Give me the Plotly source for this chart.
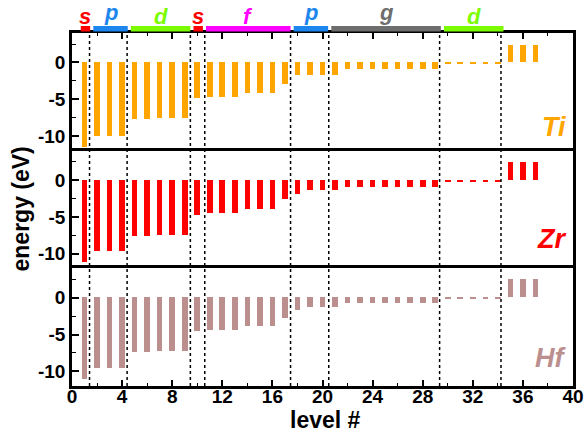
import plotly.graph_objects as go
from plotly.subplots import make_subplots

# Single-particle levels (eV) for the three group-IV atoms
levels = list(range(1, 38))

ti_energy = [-11.5,
             -10.0, -10.0, -10.0,
             -7.73, -7.73, -7.55, -7.55, -7.55,
             -4.8,
             -4.66, -4.66, -4.66, -4.16, -4.16, -4.16, -2.98,
             -1.67, -1.66, -1.66,
             -1.66, -0.9, -0.9, -0.9, -0.9, -0.9, -0.9, -0.9, -0.9,
             -0.2, -0.17, -0.14, -0.12, -0.1,
             2.35, 2.35, 2.35]

zr_energy = [-11.05,
             -9.6, -9.6, -9.6,
             -7.55, -7.55, -7.37, -7.37, -7.37,
             -4.75,
             -4.48, -4.48, -4.48, -3.93, -3.93, -3.93, -2.53,
             -1.85, -1.31, -1.31,
             -1.31, -0.88, -0.88, -0.88, -0.88, -0.88, -0.88, -0.88, -0.88,
             -0.2, -0.17, -0.14, -0.12, -0.1,
             2.45, 2.45, 2.45]

hf_energy = [-11.07,
             -9.55, -9.55, -9.55,
             -7.46, -7.46, -7.28, -7.28, -7.28,
             -4.61,
             -4.43, -4.43, -4.43, -3.84, -3.84, -3.84, -2.85,
             -1.72, -1.36, -1.36,
             -1.36, -0.81, -0.81, -0.81, -0.81, -0.81, -0.81, -0.81, -0.81,
             -0.2, -0.17, -0.14, -0.12, -0.1,
             2.45, 2.45, 2.45]

elements = ["Ti", "Zr", "Hf"]
element_colors = ["#FFA500", "#FF0000", "#BC8F8F"]

# Shell groups: label, first level, last level, colour
shell_labels = ["s", "p", "d", "s", "f", "p", "g", "d"]
shell_first = [1, 2, 5, 10, 11, 18, 21, 30]
shell_last = [1, 4, 9, 10, 17, 20, 29, 34]
shell_colors = ["#FF0000", "#1C86EE", "#7CFC00", "#FF0000",
                "#FF00FF", "#1C86EE", "#6E6E6E", "#7CFC00"]

# Shell boundaries (dotted separators)
separators = [1.4, 4.4, 9.45, 10.6, 17.45, 20.5, 29.35, 34.25]

x_ticks = list(range(0, 41, 4))
y_ticks = [0, -5, -10]

FONT = "Liberation Sans, Arial, sans-serif"
LW = 2.5

fig = make_subplots(rows=3, cols=1, shared_xaxes=False, vertical_spacing=0)

for i, (energy, col) in enumerate(zip([ti_energy, zr_energy, hf_energy], element_colors)):
    fig.add_trace(
        go.Bar(x=levels, y=energy, base=0, width=0.45,
               marker=dict(color=col, line=dict(width=0)), showlegend=False),
        row=i + 1, col=1,
    )

for r in range(1, 4):
    fig.update_yaxes(
        range=[-12, 4], tickvals=y_ticks, ticktext=[str(v) for v in y_ticks],
        ticks="inside", ticklen=7, tickwidth=1.5, tickcolor="black",
        minor=dict(dtick=2.5, tick0=0, ticks="inside", ticklen=4, tickwidth=1.2, tickcolor="black"),
        showline=True, linewidth=LW, linecolor="black", mirror=True,
        showgrid=False, zeroline=False, automargin=False,
        tickfont=dict(family=FONT, size=19, color="black", weight="bold"),
        row=r, col=1,
    )
    fig.update_xaxes(range=[0, 40], showgrid=False, zeroline=False, automargin=False,
                     row=r, col=1)

# top frame with ticks (row 1), shared borders drawn once (rows 2, 3)
fig.update_xaxes(side="top", showline=True, linewidth=LW, linecolor="black", mirror=False,
                 tickvals=x_ticks, ticks="inside", ticklen=6, tickwidth=1.5,
                 tickcolor="black", showticklabels=False,
                 minor=dict(dtick=2, tick0=0, ticks="inside", ticklen=3, tickwidth=1.2, tickcolor="black"),
                 row=1, col=1)
fig.update_xaxes(side="top", showline=True, linewidth=LW, linecolor="black", mirror=False,
                 ticks="", showticklabels=False, row=2, col=1)
fig.update_xaxes(showline=True, linewidth=LW, linecolor="black", mirror=True,
                 tickvals=x_ticks, ticktext=[str(v) for v in x_ticks], ticks="inside", ticklen=6,
                 tickwidth=1.5, tickcolor="black", ticklabelstandoff=-9,
                 minor=dict(dtick=2, tick0=0, ticks="inside", ticklen=3, tickwidth=1.2, tickcolor="black"),
                 tickfont=dict(family=FONT, size=19, color="black", weight="bold"),
                 row=3, col=1)

shapes = []
for xs in separators:
    shapes.append(dict(type="line", xref="x3", yref="paper", x0=xs, x1=xs, y0=0, y1=1,
                       line=dict(color="black", width=1.5, dash="dot"), layer="above"))

annotations = []
plot_h = 437 - 33 - 51
for lab, a, b, col in zip(shell_labels, shell_first, shell_last, shell_colors):
    x0 = a - 0.3
    x1 = b + 0.45
    shapes.append(dict(type="rect", xref="x3", yref="paper", x0=x0, x1=x1,
                       y0=1 + 1.5 / plot_h, y1=1 + 7 / plot_h,
                       fillcolor=col, line=dict(width=0)))
    # letters with descenders sit a little higher above the bar
    lift = 0 if lab in ("p", "g") else -4
    annotations.append(dict(x=(x0 + x1) / 2, y=1 + 7 / plot_h, xref="x3", yref="paper",
                            text=f"<b><i>{lab}</i></b>", showarrow=False, borderpad=0,
                            xanchor="center", yanchor="bottom", yshift=lift,
                            font=dict(family=FONT, size=22, color=col)))

label_y = [0.2, 0.246, 0.24]
for i, (name, col) in enumerate(zip(elements, element_colors)):
    ax = "" if i == 0 else str(i + 1)
    annotations.append(dict(x=0.99, y=label_y[i], xref=f"x{ax} domain", yref=f"y{ax} domain",
                            text=f"<b><i>{name}</i></b>", showarrow=False,
                            xanchor="right", yanchor="middle",
                            font=dict(family=FONT, size=27, color=col)))

annotations.append(dict(x=0, y=0.5, xref="paper", yref="paper", text="<b>energy (eV)</b>",
                        showarrow=False, textangle=-90, xanchor="center", yanchor="middle",
                        xshift=-52, font=dict(family=FONT, size=23, color="black")))
annotations.append(dict(x=0.5, y=0, xref="paper", yref="paper", text="<b>level #</b>",
                        showarrow=False, xanchor="center", yanchor="middle", borderpad=0,
                        yshift=-34, xshift=3, font=dict(family=FONT, size=23, color="black")))

fig.update_layout(
    width=586, height=437,
    margin=dict(l=72, r=13, t=33, b=51),
    plot_bgcolor="white", paper_bgcolor="white",
    shapes=shapes, annotations=annotations,
    bargap=0,
)

fig.write_html("out.html")
